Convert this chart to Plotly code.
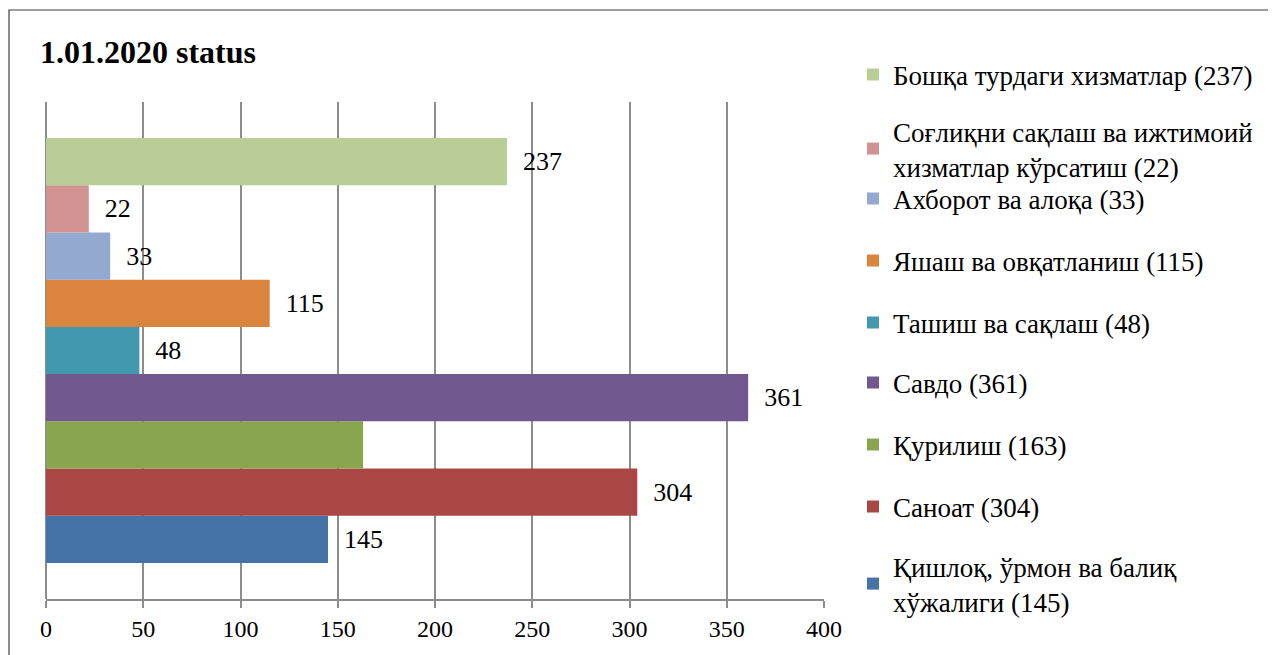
import plotly.graph_objects as go

# Data (bottom to top in chart order)
categories = [
    "Қишлоқ, ўрмон ва балиқ<br>хўжалиги (145)",
    "Саноат (304)",
    "Қурилиш (163)",
    "Савдо (361)",
    "Ташиш ва сақлаш (48)",
    "Яшаш ва овқатланиш (115)",
    "Ахборот ва алоқа (33)",
    "Соғлиқни сақлаш ва ижтимоий<br>хизматлар кўрсатиш (22)",
    "Бошқа турдаги хизматлар (237)",
]
values = [145, 304, 163, 361, 48, 115, 33, 22, 237]
show_label = [True, True, False, True, True, True, True, True, True]
colors = ["#4572A7", "#AA4643", "#89A54E", "#71588F", "#4198AF",
          "#DB843D", "#93A9CF", "#D19392", "#B9CD96"]
x_ticks = [0, 50, 100, 150, 200, 250, 300, 350, 400]
title_text = "1.01.2020 status"

SERIF = "'Liberation Serif', 'Times New Roman', serif"

OFF = 8  # page body margin
W, H = 1268, 647
# plot area in reference (screen) pixels
SL, SR, ST, SB = 46, 824, 102, 599
L, R, T, B = SL - OFF, SR - OFF, ST - OFF, SB - OFF

def px_x(sx):
    return (sx - SL) / (SR - SL)

def px_y(sy):
    return (SB - sy) / (SB - ST)

# legend entry centres (screen px), bottom-to-top order matching categories
legend_centres = [584, 507, 445, 383, 323, 261, 199, 149, 75]

fig = go.Figure()
legends = {}
for i, (name, v, c, s) in enumerate(zip(categories, values, colors, show_label)):
    key = "legend" if i == 0 else f"legend{i + 1}"
    fig.add_trace(go.Bar(
        x=[v], y=["status"], orientation="h", name=name,
        marker=dict(color=c, line=dict(width=0)),
        text=[f"  {v}" if s else ""], textposition="outside",
        textfont=dict(family=SERIF, size=26, color="black"),
        cliponaxis=False, constraintext="none",
        legend=key,
    ))
    legends[key] = dict(
        x=px_x(853), y=px_y(legend_centres[i]), xanchor="left", yanchor="middle",
        font=dict(family=SERIF, size=27, color="black"),
        bgcolor="rgba(0,0,0,0)",
    )

fig.update_layout(
    width=W, height=H,
    margin=dict(l=L, r=W - R, t=T, b=H - B, autoexpand=False),
    paper_bgcolor="white", plot_bgcolor="white",
    barmode="group", bargap=0.145, bargroupgap=0,
    font=dict(family=SERIF, color="black"),
    showlegend=True,
    xaxis=dict(
        range=[0, 400], tickvals=x_ticks, ticktext=[str(t) for t in x_ticks],
        showgrid=True, gridcolor="#8c8c8c", gridwidth=1.5,
        zeroline=True, zerolinecolor="#8c8c8c", zerolinewidth=1.5,
        showline=True, linecolor="#8c8c8c", linewidth=1.5,
        ticks="outside", ticklen=7, tickcolor="#8c8c8c", tickwidth=1.5,
        tickfont=dict(family=SERIF, size=24, color="black"),
        fixedrange=True,
    ),
    yaxis=dict(showticklabels=False, showgrid=False, zeroline=False,
               showline=False, ticks="", range=[-0.5, 0.5]),
    annotations=[dict(
        text=f"<b>{title_text}</b>", x=px_x(38), y=px_y(52),
        xref="paper", yref="paper", xanchor="left", yanchor="middle",
        showarrow=False,
        font=dict(family=SERIF, size=32, color="black"),
    )],
    shapes=[dict(
        type="rect", xref="paper", yref="paper",
        x0=px_x(9), x1=px_x(1300), y0=px_y(10), y1=px_y(680),
        line=dict(color="#404040", width=1.2), fillcolor="rgba(0,0,0,0)",
        layer="below",
    )],
    **legends,
)

fig.write_html("out.html")
